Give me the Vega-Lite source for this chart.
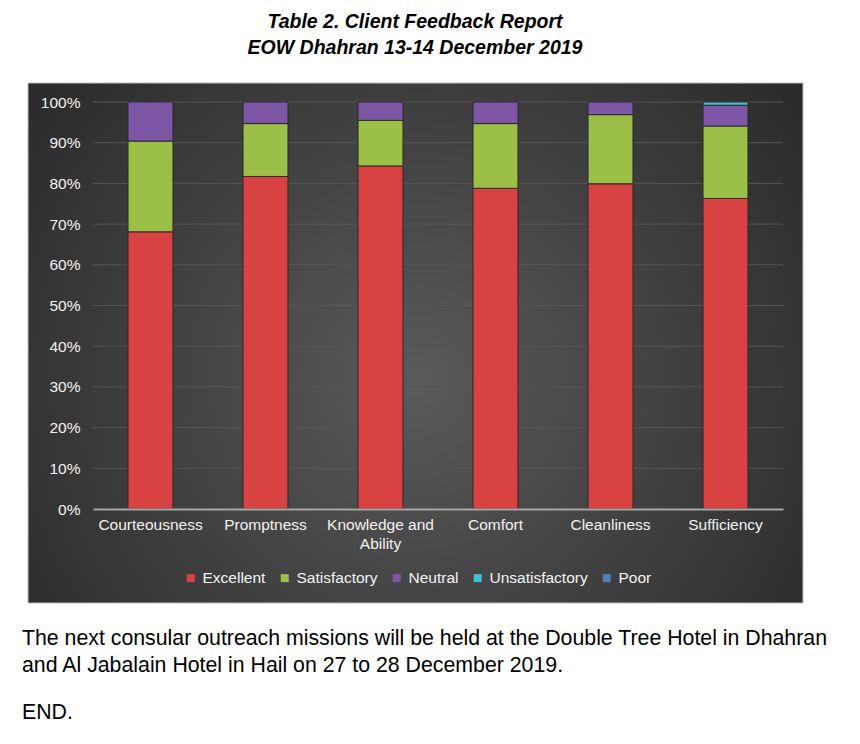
{
  "$schema": "https://vega.github.io/schema/vega-lite/v6.json",
  "autosize": {"type": "none"},
  "width": 690,
  "height": 407,
  "padding": {"left": 93, "top": 102, "right": 77, "bottom": 235},
  "background": "#ffffff",
  "config": {"view": {"stroke": null}, "font": "Liberation Sans"},
  "title": {
    "text": ["Table 2. Client Feedback Report", "EOW Dhahran 13-14 December 2019"],
    "font": "Liberation Sans",
    "fontSize": 19.5,
    "fontWeight": "bold",
    "fontStyle": "italic",
    "color": "#000000",
    "anchor": "middle",
    "frame": "group",
    "dx": -23,
    "offset": 24,
    "lineHeight": 26
  },
  "datasets": {
    "feedback": [
      {"aspect": "Courteousness", "rating": "Excellent", "k": 1, "pct": 68.1},
      {"aspect": "Courteousness", "rating": "Satisfactory", "k": 2, "pct": 22.3},
      {"aspect": "Courteousness", "rating": "Neutral", "k": 3, "pct": 9.6},
      {"aspect": "Promptness", "rating": "Excellent", "k": 1, "pct": 81.7},
      {"aspect": "Promptness", "rating": "Satisfactory", "k": 2, "pct": 13.0},
      {"aspect": "Promptness", "rating": "Neutral", "k": 3, "pct": 5.3},
      {"aspect": "Knowledge and Ability", "rating": "Excellent", "k": 1, "pct": 84.3},
      {"aspect": "Knowledge and Ability", "rating": "Satisfactory", "k": 2, "pct": 11.2},
      {"aspect": "Knowledge and Ability", "rating": "Neutral", "k": 3, "pct": 4.5},
      {"aspect": "Comfort", "rating": "Excellent", "k": 1, "pct": 78.8},
      {"aspect": "Comfort", "rating": "Satisfactory", "k": 2, "pct": 15.9},
      {"aspect": "Comfort", "rating": "Neutral", "k": 3, "pct": 5.3},
      {"aspect": "Cleanliness", "rating": "Excellent", "k": 1, "pct": 79.9},
      {"aspect": "Cleanliness", "rating": "Satisfactory", "k": 2, "pct": 17.0},
      {"aspect": "Cleanliness", "rating": "Neutral", "k": 3, "pct": 3.1},
      {"aspect": "Sufficiency", "rating": "Excellent", "k": 1, "pct": 76.3},
      {"aspect": "Sufficiency", "rating": "Satisfactory", "k": 2, "pct": 17.8},
      {"aspect": "Sufficiency", "rating": "Neutral", "k": 3, "pct": 5.1},
      {"aspect": "Sufficiency", "rating": "Unsatisfactory", "k": 4, "pct": 0.8}
    ],
    "gridlines": [
      {"v": 0.1}, {"v": 0.2}, {"v": 0.3}, {"v": 0.4}, {"v": 0.5},
      {"v": 0.6}, {"v": 0.7}, {"v": 0.8}, {"v": 0.9}, {"v": 1.0}
    ],
    "note": [
      {"text": "The next consular outreach missions will be held at the Double Tree Hotel in Dhahran", "end": "END."}
    ]
  },
  "resolve": {"scale": {"x": "independent"}},
  "layer": [
    {
      "data": {"values": [{}]},
      "mark": {
        "type": "rect",
        "clip": false,
        "stroke": "#bfbfbf",
        "strokeWidth": 1,
        "fill": {
          "gradient": "radial",
          "x1": 0.5, "y1": 0.55, "r1": 0,
          "x2": 0.5, "y2": 0.55, "r2": 0.72,
          "stops": [
            {"offset": 0, "color": "#5a5a5a"},
            {"offset": 1, "color": "#232323"}
          ]
        }
      },
      "encoding": {
        "x": {"datum": -0.0942, "type": "quantitative", "scale": {"domain": [0, 1], "nice": false, "zero": false}, "axis": null},
        "x2": {"datum": 1.029},
        "y": {"datum": 1.0467, "type": "quantitative"},
        "y2": {"datum": -0.231}
      }
    },
    {
      "data": {"name": "gridlines"},
      "mark": {"type": "rule", "color": "#565656", "strokeWidth": 1},
      "encoding": {
        "y": {"field": "v", "type": "quantitative"}
      }
    },
    {
      "data": {"name": "feedback"},
      "mark": {"type": "bar", "stroke": "#2b2b2b", "strokeWidth": 1},
      "encoding": {
        "x": {
          "field": "aspect",
          "type": "nominal",
          "sort": null,
          "scale": {"paddingInner": 0.609, "paddingOuter": 0.3045},
          "axis": {
            "title": null,
            "zindex": 1,
            "labelAngle": 0,
            "labelColor": "#f2f2f2",
            "labelFont": "Liberation Sans",
            "labelFontSize": 15.5,
            "labelPadding": 8,
            "labelLineHeight": 19,
            "labelExpr": "datum.label == 'Knowledge and Ability' ? ['Knowledge and', 'Ability'] : datum.label",
            "ticks": false,
            "domainColor": "#a6a6a6",
            "domainWidth": 2,
            "grid": false
          }
        },
        "y": {
          "field": "pct",
          "type": "quantitative",
          "stack": "normalize",
          "scale": {"domain": [0, 1], "nice": false},
          "axis": {
            "title": null,
            "zindex": 1,
            "grid": false,
            "domain": false,
            "ticks": false,
            "values": [0, 0.1, 0.2, 0.3, 0.4, 0.5, 0.6, 0.7, 0.8, 0.9, 1],
            "format": ".0%",
            "labelColor": "#f2f2f2",
            "labelFont": "Liberation Sans",
            "labelFontSize": 15.5,
            "labelPadding": 13
          }
        },
        "color": {
          "field": "rating",
          "type": "nominal",
          "scale": {
            "domain": ["Excellent", "Satisfactory", "Neutral", "Unsatisfactory", "Poor"],
            "range": ["#d84242", "#9cbf48", "#7d57a6", "#3fbfd8", "#4f81bd"]
          },
          "legend": {
            "title": null,
            "orient": "none",
            "direction": "horizontal",
            "legendX": 90,
            "legendY": 468,
            "padding": 0,
            "symbolType": "square",
            "symbolSize": 64,
            "symbolStrokeWidth": 0,
            "labelColor": "#f2f2f2",
            "labelFont": "Liberation Sans",
            "labelFontSize": 15.5,
            "labelOffset": 4,
            "columnPadding": 11
          }
        },
        "order": {"field": "k", "type": "quantitative"}
      }
    },
    {
      "data": {"name": "note"},
      "mark": {"type": "text", "clip": false, "align": "left", "baseline": "alphabetic", "font": "Liberation Sans", "fontSize": 21.3, "color": "#000000"},
      "encoding": {
        "x": {"datum": -0.1029, "type": "quantitative", "scale": {"domain": [0, 1], "nice": false, "zero": false}, "axis": null},
        "y": {"datum": -0.3342, "type": "quantitative"},
        "text": {"field": "text"}
      }
    },
    {
      "data": {"values": [{"text": "and Al Jabalain Hotel in Hail on 27 to 28 December 2019."}]},
      "mark": {"type": "text", "clip": false, "align": "left", "baseline": "alphabetic", "font": "Liberation Sans", "fontSize": 21.3, "color": "#000000"},
      "encoding": {
        "x": {"datum": -0.1029, "type": "quantitative", "scale": {"domain": [0, 1], "nice": false, "zero": false}, "axis": null},
        "y": {"datum": -0.4005, "type": "quantitative"},
        "text": {"field": "text"}
      }
    },
    {
      "data": {"name": "note"},
      "mark": {"type": "text", "clip": false, "align": "left", "baseline": "alphabetic", "font": "Liberation Sans", "fontSize": 21.3, "color": "#000000"},
      "encoding": {
        "x": {"datum": -0.1029, "type": "quantitative", "scale": {"domain": [0, 1], "nice": false, "zero": false}, "axis": null},
        "y": {"datum": -0.516, "type": "quantitative"},
        "text": {"field": "end"}
      }
    }
  ]
}
